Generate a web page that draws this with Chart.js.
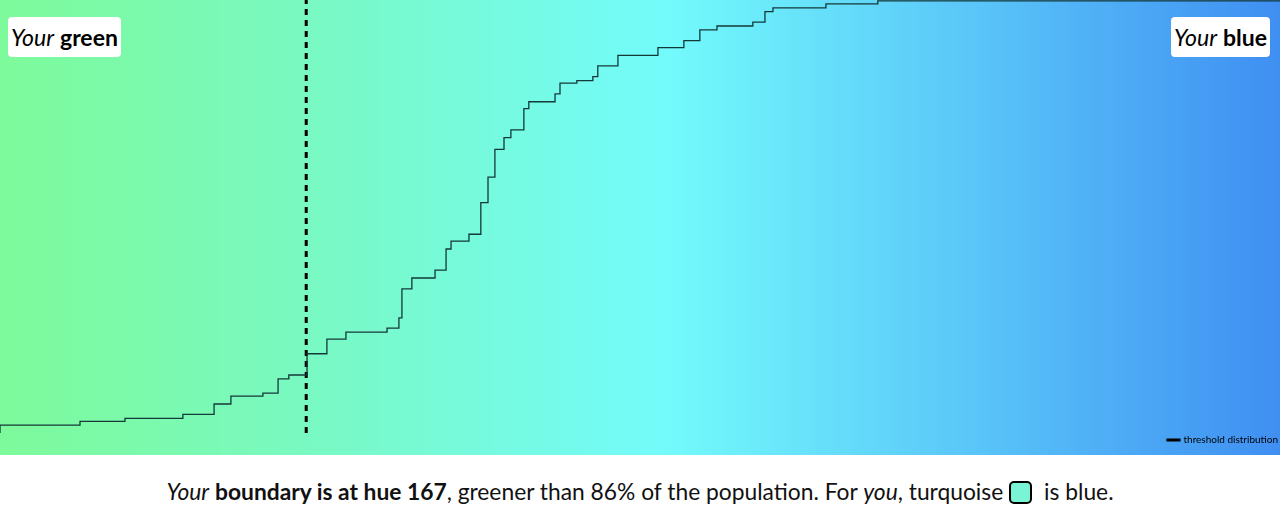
<!DOCTYPE html>
<html>
<head>
<meta charset="utf-8">
<script src="https://cdn.jsdelivr.net/npm/chart.js@4/dist/chart.umd.min.js"></script>
<style>
  body { margin: 0; width: 1280px; height: 526px; background: #fff; font-family: Lato, "Open Sans", sans-serif; overflow: hidden; }
  #wrap { position: relative; width: 1280px; height: 455px; }
  .tag { position: absolute; top: 17px; background: #fff; border-radius: 4px; padding: 6px 3px; font-size: 23px; color: #000; }
  .caption { text-align: center; font-size: 22.8px; margin-top: 22px; color: #111; }
  .swatch { display: inline-block; width: 19px; height: 19px; border: 2px solid #000; border-radius: 5px; background: #79f5d6; vertical-align: -4px; margin: 0 6px; }
</style>
</head>
<body>
<div id="wrap">
  <canvas id="chart" width="1280" height="455"></canvas>
  <div class="tag" style="left:8px"><i>Your</i> <b>green</b></div>
  <div class="tag" style="right:10px"><i>Your</i> <b>blue</b></div>
</div>
<div class="caption"><i>Your</i> <b>boundary is at hue 167</b>, greener than 86% of the population. For <i>you</i>, turquoise<span class="swatch"></span> is blue.</div>
<script>
// threshold hues (step positions) and cumulative share of population
const hues = [156, 158.90, 160.53, 162.63, 163.76, 164.37, 165.53, 166.08, 166.47, 167.13, 167.85, 168.54,
  170.03, 170.46, 170.57, 170.93, 171.77, 172.17, 172.35, 173.00, 173.43, 173.69, 173.94, 174.27, 174.52,
  174.99, 175.17, 176.12, 176.30, 176.91, 177.49, 177.67, 178.40, 179.85, 180.79, 181.37, 181.99, 183.29,
  183.73, 184.02, 185.94, 187.82, 191.70, 202.4];
const shares = [0, 0.018, 0.027, 0.034, 0.043, 0.067, 0.085, 0.092, 0.125, 0.134, 0.183, 0.217,
  0.233, 0.242, 0.266, 0.333, 0.358, 0.376, 0.425, 0.443, 0.459, 0.532, 0.591, 0.655, 0.682,
  0.700, 0.749, 0.765, 0.783, 0.808, 0.814, 0.823, 0.848, 0.872, 0.890, 0.906, 0.931, 0.940,
  0.949, 0.973, 0.982, 0.991, 0.998, 0.998];
const boundaryHue = 167.1;

const gradientBg = {
    id: 'gradientBg',
    beforeDraw(chart) {
        const { ctx, width, height } = chart;
        const g = ctx.createLinearGradient(0, 0, width, 0);
        g.addColorStop(0, '#7dfa9a');
        g.addColorStop(0.25, '#79f9c4');
        g.addColorStop(0.52, '#73fbfb');
        g.addColorStop(0.75, '#5bc8f9');
        g.addColorStop(1, '#3f8ff2');
        ctx.save();
        ctx.fillStyle = g;
        ctx.fillRect(0, 0, width, height);
        ctx.restore();
    }
};

new Chart(document.getElementById('chart'), {
    type: 'line',
    data: {
        datasets: [
            {
                label: 'threshold distribution',
                data: hues.map((h, i) => ({ x: h, y: shares[i] })),
                stepped: 'after',
                borderColor: '#143838',
                borderWidth: 1.3,
                pointRadius: 0,
                fill: false
            },
            {
                label: 'boundary',
                data: [{ x: boundaryHue, y: 0 }, { x: boundaryHue, y: 1 }],
                borderColor: '#000',
                borderWidth: 3,
                borderDash: [6, 5],
                pointRadius: 0
            }
        ]
    },
    options: {
        responsive: false,
        animation: false,
        layout: { padding: 0 },
        plugins: {
            tooltip: { enabled: false },
            legend: {
                position: 'bottom',
                align: 'end',
                labels: {
                    usePointStyle: true,
                    color: '#000',
                    padding: 2,
                    font: { size: 10, family: 'Lato' },
                    generateLabels: () => [{ text: 'threshold distribution', strokeStyle: '#000', lineWidth: 3, pointStyle: 'line', fontColor: '#000', datasetIndex: 0 }]
                }
            }
        },
        scales: {
            x: { type: 'linear', min: 156, max: 202.4, display: false },
            y: { min: 0, max: 1, display: false }
        }
    },
    plugins: [gradientBg]
});
</script>
</body>
</html>
